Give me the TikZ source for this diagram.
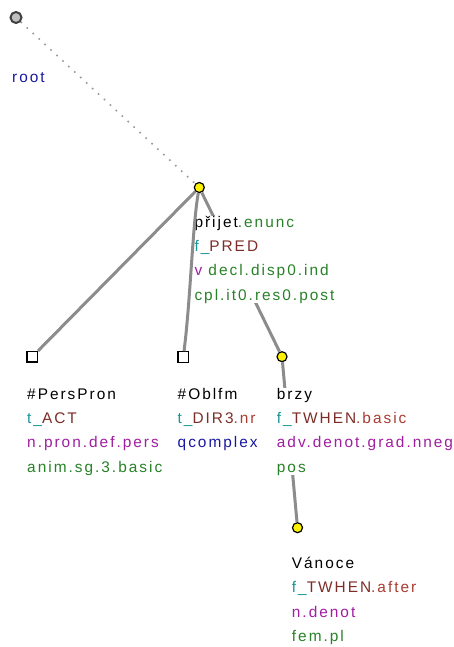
\documentclass[tikz,border=0pt]{standalone}
\usepackage{fontspec}
\setmainfont{Liberation Sans}[LetterSpace=13]
\usetikzlibrary{positioning}
\definecolor{tyrk}{RGB}{25,150,150}
\definecolor{hneda}{RGB}{125,45,40}
\definecolor{cerv}{RGB}{170,60,50}
\definecolor{fial}{RGB}{160,30,160}
\definecolor{zel}{RGB}{40,130,40}
\definecolor{modr}{RGB}{25,25,160}
\newcommand\cTe[1]{\textcolor{tyrk}{#1}}
\newcommand\cFu[1]{\textcolor{hneda}{#1}}
\newcommand\cSu[1]{\textcolor{cerv}{#1}}
\newcommand\cSp[1]{\textcolor{fial}{#1}}
\newcommand\cGr[1]{\textcolor{zel}{#1}}
\newcommand\cBl[1]{\textcolor{modr}{#1}}
\tikzset{
  uzel/.style={circle,draw,line width=1.2pt,fill=yellow,minimum size=10pt,inner sep=0pt},
  koren/.style={circle,draw=black!75,line width=2pt,fill=black!25,minimum size=11pt,inner sep=0pt},
  ctv/.style={rectangle,draw,line width=1.2pt,fill=white,minimum size=10.5pt,inner sep=0pt},
  hr/.style={draw=black!45,line width=3pt},
  tecky/.style={draw=black!40,line width=1.6pt,dash pattern=on 1.6pt off 6.5pt},
  popis/.style={anchor=base west,align=left,inner sep=0pt,fill=white,
    font=\fontsize{15.4}{24.4}\selectfont},
}
\begin{document}
\begin{tikzpicture}[x=1pt,y=-1pt]
  \useasboundingbox (0,0) rectangle (454,647);
  % uzly stromu
  \node[koren] (root) at (16,17.5) {};
  \node[uzel] (prijet) at (199.3,187.5) {};
  \node[ctv] (perspron) at (32.3,356.7) {};
  \node[ctv] (oblfm) at (183.3,357) {};
  \node[uzel] (brzy) at (282,356.7) {};
  \node[uzel] (vanoce) at (297.5,527.7) {};
  % hrany pod popisky
  \draw[tecky] (root) -- (prijet);
  \draw[hr] (prijet) -- (brzy);
  \draw[hr] (brzy) -- (vanoce);
  % popisky (kotva = posledni radek)
  \node[popis,fill=none] (l-root) at (12,83) {\cBl{root}};
  \node[popis] (l-prijet) at (194.3,300.2) {p\v{r}ijet\cGr{.enunc}\\
    \cTe{f\_}\cFu{PRED}\\ \cSp{v} \cGr{decl.disp0.ind}\\ \cGr{cpl.it0.res0.post}};
  \node[popis] (l-perspron) at (27,472.2) {\#PersPron\\ \cTe{t\_}\cFu{ACT}\\
    \cSp{n.pron.def.pers}\\ \cGr{anim.sg.3.basic}};
  \node[popis] (l-oblfm) at (177.5,447.8) {\#Oblfm\\ \cTe{t\_}\cFu{DIR3}\cSu{.nr}\\
    \cBl{qcomplex}};
  \node[popis] (l-brzy) at (276.7,472.2) {brzy\\ \cTe{f\_}\cFu{TWHEN}\cSu{.basic}\\
    \cSp{adv.denot.grad.nneg}\\ \cGr{pos}};
  \node[popis] (l-vanoce) at (291.7,641.7) {V\'anoce\\ \cTe{f\_}\cFu{TWHEN}\cSu{.after}\\
    \cSp{n.denot}\\ \cGr{fem.pl}};
  % hrany nad popisky
  \draw[hr] (prijet) -- (perspron);
  \draw[hr] (prijet) .. controls (192.5,225) and (190.5,300) .. (oblfm);
\end{tikzpicture}
\end{document}
